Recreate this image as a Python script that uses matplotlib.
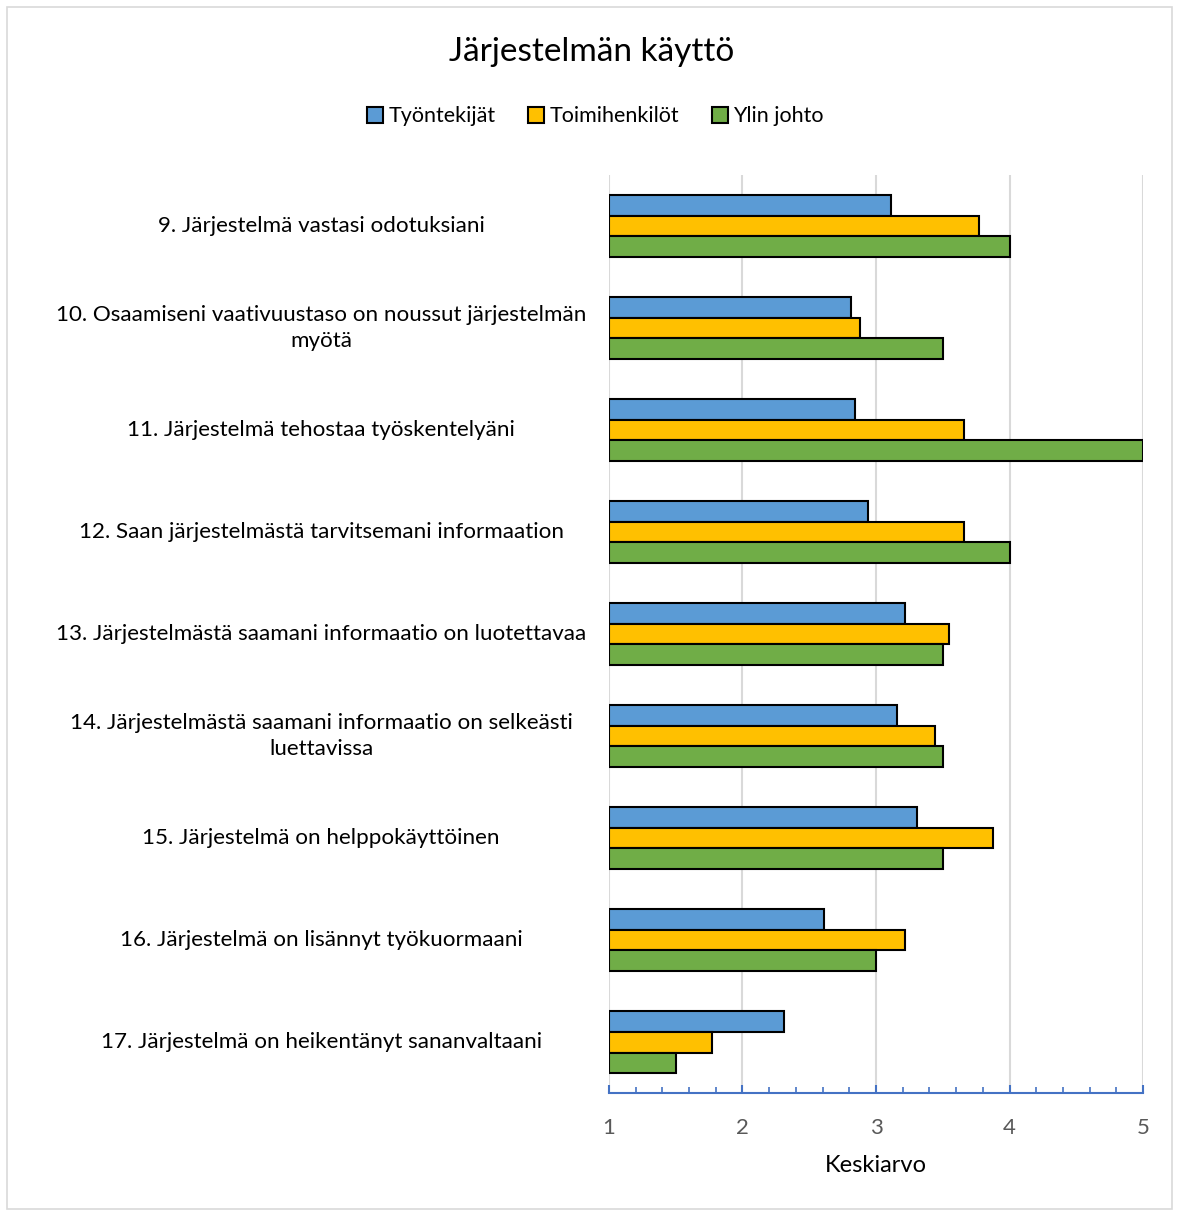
import numpy as np
import matplotlib.pyplot as plt
from matplotlib.patches import Rectangle
from matplotlib.ticker import MultipleLocator

plt.rcParams['font.family'] = ['Lato', 'DejaVu Sans']

# Questions (top to bottom)
questions = [
    "9. Järjestelmä vastasi odotuksiani",
    "10. Osaamiseni vaativuustaso on noussut järjestelmän\nmyötä",
    "11. Järjestelmä tehostaa työskentelyäni",
    "12. Saan järjestelmästä tarvitsemani informaation",
    "13. Järjestelmästä saamani informaatio on luotettavaa",
    "14. Järjestelmästä saamani informaatio on selkeästi\nluettavissa",
    "15. Järjestelmä on helppokäyttöinen",
    "16. Järjestelmä on lisännyt työkuormaani",
    "17. Järjestelmä on heikentänyt sananvaltaani",
]

# Mean scores per group
tyontekijat = [3.11, 2.81, 2.84, 2.94, 3.22, 3.16, 3.31, 2.61, 2.31]
toimihenkilot = [3.77, 2.88, 3.66, 3.66, 3.55, 3.44, 3.88, 3.22, 1.77]
ylin_johto = [4.0, 3.5, 5.0, 4.0, 3.5, 3.5, 3.5, 3.0, 1.5]

series = ["Työntekijät", "Toimihenkilöt", "Ylin johto"]
colors = ["#5B9BD5", "#FFC000", "#70AD47"]
xticks = [1, 2, 3, 4, 5]

fig = plt.figure(figsize=(11.79, 12.11), dpi=100)
ax = fig.add_axes([0.5165, 0.0974, 0.453, 0.7581])

y = np.arange(len(questions))
h = 0.205
for i, (vals, name, c) in enumerate(zip([tyontekijat, toimihenkilot, ylin_johto], series, colors)):
    ax.barh(y + (i - 1) * h, np.array(vals) - 1, left=1, height=h, color=c,
            edgecolor='black', linewidth=1.5, label=name, zorder=3)

ax.set_xlim(1, 5)
ax.set_ylim(len(questions) - 0.5, -0.5)
ax.set_xticks(xticks)
ax.xaxis.set_minor_locator(MultipleLocator(0.2))
ax.set_yticks([])
ax.grid(axis='x', color='#D9D9D9', linewidth=1.5, zorder=0)
for s in ['top', 'right', 'left']:
    ax.spines[s].set_visible(False)
ax.spines['bottom'].set_color('#4472C4')
ax.spines['bottom'].set_linewidth(1.5)
ax.tick_params(axis='x', which='major', direction='in', length=6, width=1.5,
               color='#4472C4', labelsize=16, labelcolor='#595959', pad=18)
ax.tick_params(axis='x', which='minor', direction='in', length=4, width=1.2,
               color='#4472C4')
ax.set_xlabel("Keskiarvo", fontsize=17, labelpad=12)

for yi, q in zip(y, questions):
    ax.text(-0.539, yi, q, transform=ax.get_yaxis_transform(), ha='center',
            va='center', fontsize=16.1, linespacing=1.4)

fig.text(0.502, 0.957, "Järjestelmän käyttö", fontsize=24, ha='center', va='center')
fig.legend(loc='center', bbox_to_anchor=(0.505, 0.904), ncol=3, frameon=False,
           fontsize=15.5, handlelength=0.75, handleheight=0.75, handletextpad=0.25,
           columnspacing=1.5)

fig.patches.append(Rectangle((0.006, 0.002), 0.988, 0.992, transform=fig.transFigure,
                             fill=False, edgecolor='#D9D9D9', linewidth=1.2))

fig.savefig("out.png", dpi=100)
